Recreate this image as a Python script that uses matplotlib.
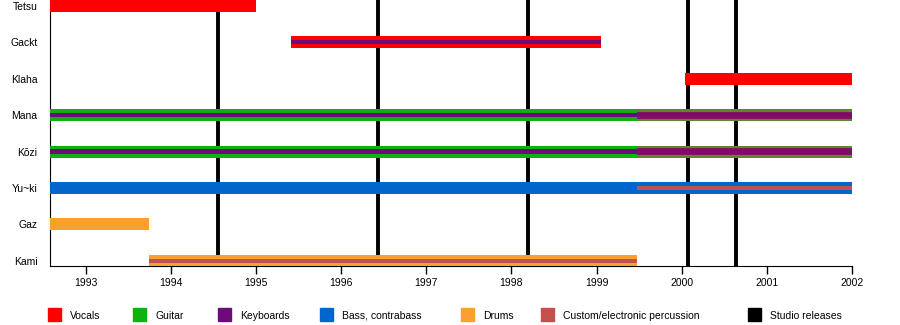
import matplotlib.pyplot as plt
from matplotlib.patches import Rectangle

plt.rcParams['font.family'] = ['Liberation Sans', 'DejaVu Sans']

members = ['Kami', 'Gaz', 'Yu~ki', 'Kōzi', 'Mana', 'Klaha', 'Gackt', 'Tetsu']

start = 1992.58
end = 2002.0

# (member, start, end) per role
vocals = [('Tetsu', start, 1995.0), ('Gackt', 1995.41, 1999.05), ('Klaha', 2000.04, end)]
guitar = [('Mana', start, end), ('Kōzi', start, end)]
keyboards = [('Gackt', 1995.41, 1999.05), ('Mana', start, end), ('Kōzi', start, end)]
bass = [('Yu~ki', start, end)]
drums = [('Gaz', start, 1993.74), ('Kami', 1993.74, 1999.47)]
percussion = [('Kami', 1993.74, 1999.47), ('Mana', 1999.47, end),
              ('Kōzi', 1999.47, end), ('Yu~ki', 1999.47, end)]
releases = [1994.55, 1996.43, 1998.2, 2000.07, 2000.64]

years = list(range(1993, 2003))

c_voc = '#ff0000'
c_gui = '#0db30d'
c_key = '#6e0b7a'
c_bas = '#0066cc'
c_dru = '#faa02c'
c_per = '#c2504f'

fig = plt.figure(figsize=(9, 3.25), dpi=100)
ax = fig.add_axes([50 / 900, 59 / 325, 802 / 900, 266 / 325])

row = {m: i for i, m in enumerate(members)}


def draw(items, color, h, alpha=1.0, z=3):
    for m, s, e in items:
        ax.barh(row[m], e - s, left=s, height=h, color=color, alpha=alpha,
                zorder=z, linewidth=0)


for x in releases:
    ax.axvline(x, color='black', lw=2.8, zorder=1)

mk = [p for p in percussion if p[0] in ('Mana', 'Kōzi')]

draw(vocals, c_voc, 0.33)
draw(guitar, c_gui, 0.33)
draw(bass, c_bas, 0.33)
draw(drums, c_dru, 0.33)
draw(mk, c_per, 0.33, alpha=0.45, z=3.5)
draw(keyboards, c_key, 0.12, z=4)
draw(mk, '#86086c', 0.2, alpha=0.9, z=4.5)
draw([p for p in percussion if p[0] == 'Kami'], c_per, 0.12, z=4)
draw([p for p in percussion if p[0] == 'Yu~ki'], c_per, 0.09, z=4)

ax.set_xlim(start, end)
ax.set_ylim(-0.14, 7.16)
ax.set_yticks(range(len(members)))
ax.set_yticklabels(members, fontsize=7.5)
ax.tick_params(axis='y', length=0, pad=9)
ax.set_xticks(years)
ax.set_xticklabels([str(y) for y in years], fontsize=7.5)
ax.tick_params(axis='x', length=6, width=1, pad=3)
for s in ['top', 'right']:
    ax.spines[s].set_visible(False)

legend = [('Vocals', c_voc, 48), ('Guitar', c_gui, 133), ('Keyboards', c_key, 218),
          ('Bass, contrabass', c_bas, 320), ('Drums', c_dru, 461),
          ('Custom/electronic percussion', c_per, 541), ('Studio releases', 'black', 748)]
for label, color, px in legend:
    fig.patches.append(Rectangle((px / 900, (325 - 321) / 325), 13 / 900, 13 / 325,
                                 color=color, transform=fig.transFigure))
    fig.text((px + 22) / 900, (325 - 315) / 325, label, fontsize=7.5,
             va='center_baseline')

fig.savefig('out.png', dpi=100)
